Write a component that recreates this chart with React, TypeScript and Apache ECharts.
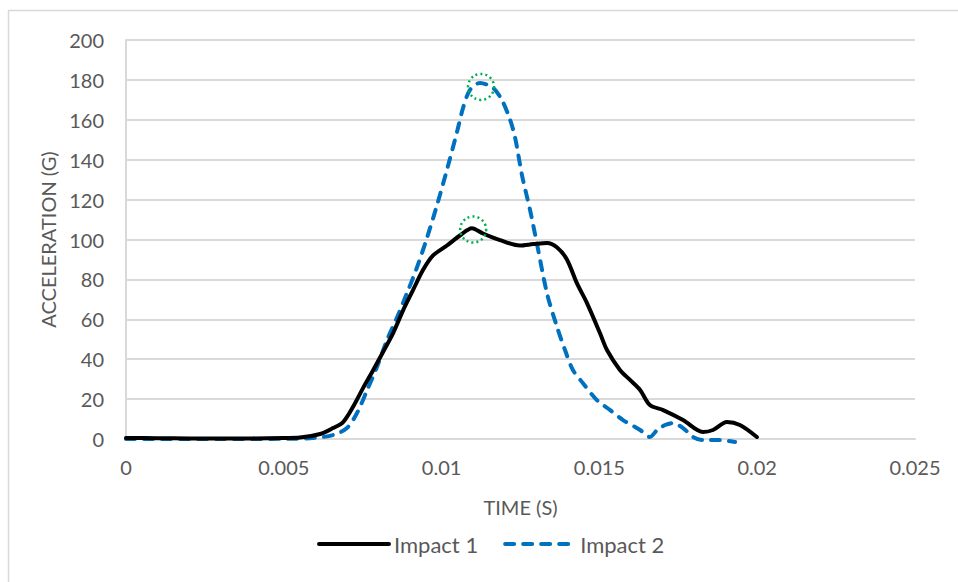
import React, { useEffect, useRef } from "react";
import * as echarts from "echarts";

const impact1Time = [0, 0.001, 0.002, 0.003, 0.004, 0.005, 0.00551, 0.00615, 0.00656, 0.00688, 0.00719, 0.00751, 0.00783, 0.00814, 0.00846, 0.00878, 0.00909, 0.00941, 0.00973, 0.01017, 0.01058, 0.01096, 0.01131, 0.01185, 0.01248, 0.0129, 0.01334, 0.01366, 0.01397, 0.01429, 0.01461, 0.01502, 0.01524, 0.01565, 0.01597, 0.01629, 0.0166, 0.01702, 0.01765, 0.01828, 0.0186, 0.01904, 0.01945, 0.01999];
const impact1Accel = [0.5, 0.4, 0.3, 0.2, 0.3, 0.5, 0.7, 2.5, 5.5, 8.5, 16, 25.5, 34.5, 43.5, 53, 64.5, 74.5, 84.7, 92, 97, 102, 105.7, 103, 99.7, 97, 97.7, 98.3, 96, 90, 78, 68, 53, 44.6, 34.6, 29.6, 24.6, 17, 14.5, 9.5, 3.5, 4.5, 8.5, 7, 1];

const impact2Time = [0, 0.001, 0.002, 0.003, 0.004, 0.005, 0.00593, 0.00656, 0.007, 0.00732, 0.00764, 0.00795, 0.00827, 0.00859, 0.0089, 0.00922, 0.00954, 0.00985, 0.01017, 0.01049, 0.01068, 0.0109, 0.01122, 0.01163, 0.01191, 0.01217, 0.01233, 0.01255, 0.0128, 0.01302, 0.01334, 0.01366, 0.01391, 0.01416, 0.01448, 0.01492, 0.01534, 0.01575, 0.01629, 0.0166, 0.01683, 0.01708, 0.01733, 0.01765, 0.01797, 0.01828, 0.01873, 0.0193];
const impact2Accel = [0, 0, 0, 0, 0, 0.1, 0.5, 2, 5.5, 13, 24.5, 36, 49.6, 61, 73, 86, 101, 117, 135, 154, 166, 175, 178.5, 176, 170, 160, 151, 132, 115, 98, 73, 56, 44.6, 34.6, 28, 19.5, 14.5, 9.5, 4.5, 1, 4.5, 7, 8, 5.5, 1, -0.5, -0.5, -1.5];

const peak1: [number, number] = [0.011, 105];
const peak2: [number, number] = [0.01125, 176.5];

const xTicks = { min: 0, max: 0.025, interval: 0.005 };
const yTicks = { min: 0, max: 200, interval: 20 };

const pair = (t: number[], v: number[]) => t.map((x, i) => [x, v[i]]);

const circleMark = (coord: [number, number]) => ({
  symbol: "circle",
  symbolSize: 26,
  silent: true,
  label: { show: false },
  itemStyle: {
    color: "rgba(0,0,0,0)",
    borderColor: "#00B050",
    borderWidth: 2.5,
    borderType: [2, 3],
  },
  data: [{ coord }],
});

export default function App() {
  const ref = useRef<HTMLDivElement>(null);
  useEffect(() => {
    if (!ref.current) return;
    const chart = echarts.init(ref.current, null, { renderer: "svg" });
    const font = "Lato, 'Open Sans', sans-serif";
    chart.setOption({
      animation: false,
      backgroundColor: "#ffffff",
      graphic: [
        {
          type: "rect",
          shape: { x: 8.5, y: 10.5, width: 1000, height: 1000 },
          style: { fill: "none", stroke: "#D9D9D9", lineWidth: 1.5 },
          silent: true,
        },
      ],
      grid: { left: 126, right: 43, top: 40, bottom: 143 },
      legend: {
        bottom: 22,
        left: 312,
        itemWidth: 70,
        itemHeight: 14,
        itemGap: 25,
        itemStyle: { opacity: 0 },
        lineStyle: { width: 4 },
        textStyle: { fontFamily: font, fontSize: 22, color: "#595959" },
        data: ["Impact 1", "Impact 2"],
      },
      xAxis: {
        type: "value",
        min: xTicks.min,
        max: xTicks.max,
        interval: xTicks.interval,
        name: "TIME (S)",
        nameLocation: "middle",
        nameGap: 58,
        nameTextStyle: { fontFamily: font, fontSize: 20, color: "#595959" },
        axisLine: { show: true, lineStyle: { color: "#D9D9D9", width: 2 } },
        axisTick: { show: false },
        splitLine: { show: false },
        axisLabel: {
          margin: 18,
          fontFamily: font,
          fontSize: 20,
          color: "#595959",
          formatter: (v: number) => String(+v.toFixed(3)),
        },
      },
      yAxis: {
        type: "value",
        min: yTicks.min,
        max: yTicks.max,
        interval: yTicks.interval,
        name: "ACCELERATION (G)",
        nameLocation: "middle",
        nameGap: 68,
        nameTextStyle: { fontFamily: font, fontSize: 20, color: "#595959" },
        axisLine: { show: true, lineStyle: { color: "#D9D9D9", width: 2 } },
        axisTick: { show: false },
        splitLine: { show: true, lineStyle: { color: "#D9D9D9", width: 2 } },
        axisLabel: { margin: 22, fontFamily: font, fontSize: 20, color: "#595959" },
      },
      series: [
        {
          name: "Impact 1",
          type: "line",
          symbol: "none",
          smooth: 0.3,
          clip: false,
          data: pair(impact1Time, impact1Accel),
          lineStyle: { color: "#000000", width: 4, cap: "round", join: "round" },
          itemStyle: { color: "#000000" },
          markPoint: circleMark(peak1),
          z: 3,
        },
        {
          name: "Impact 2",
          type: "line",
          symbol: "none",
          smooth: 0.3,
          clip: false,
          data: pair(impact2Time, impact2Accel),
          lineStyle: { color: "#0070C0", width: 4, type: [9, 9], cap: "round", join: "round" },
          itemStyle: { color: "#0070C0" },
          markPoint: circleMark(peak2),
          z: 2,
        },
      ],
    });
    return () => chart.dispose();
  }, []);
  return <div ref={ref} style={{ width: 958, height: 582, position: "absolute", left: 0, top: 0 }} />;
}
